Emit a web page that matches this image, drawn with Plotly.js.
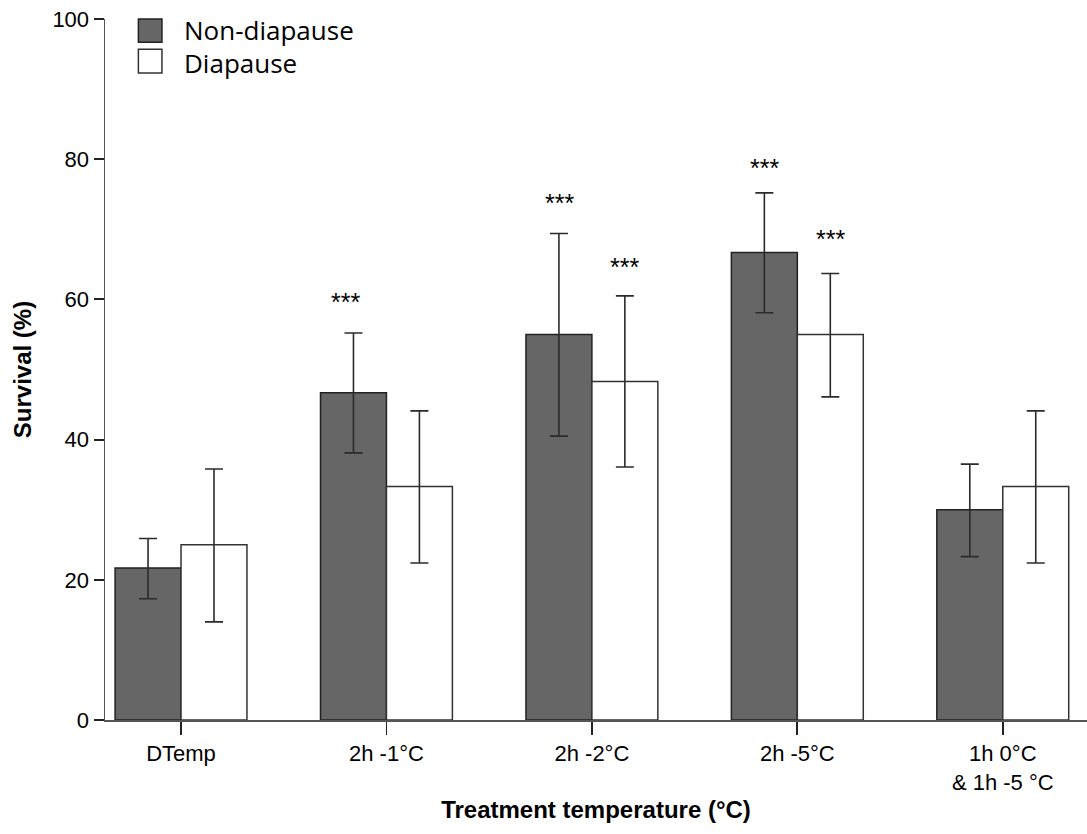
<!DOCTYPE html>
<html>
<head>
<meta charset="utf-8">
<script src="https://cdn.plot.ly/plotly-3.0.1.min.js"></script>
<style>
  html, body { margin: 0; padding: 0; background: #fff; }
  #chart { width: 1087px; height: 834px; }
</style>
</head>
<body>
<div id="chart"></div>
<script>
// Treatment groups on the x axis
const categories = ['DTemp', '2h -1°C', '2h -2°C', '2h -5°C', '1h 0°C<br>& 1h -5 °C'];
const seriesNames = ['Non-diapause', 'Diapause'];

// Mean survival (%) per treatment
const nonDiapause = [21.7, 46.7, 55.0, 66.7, 30.0];
const diapause = [25.0, 33.3, 48.3, 55.0, 33.3];

// Upper and lower confidence limits (%)
const nonDiapauseUpper = [25.9, 55.2, 69.4, 75.2, 36.5];
const nonDiapauseLower = [17.3, 38.1, 40.5, 58.1, 23.3];
const diapauseUpper = [35.8, 44.1, 60.5, 63.7, 44.1];
const diapauseLower = [14.0, 22.4, 36.1, 46.1, 22.4];

// Significance markers: [category index, series index, label height (%)]
const significance = [
  [1, 0, 59.7],
  [2, 0, 73.8],
  [2, 1, 64.6],
  [3, 0, 78.8],
  [3, 1, 68.6]
];
const sigLabel = '***';

const idx = categories.map((_, i) => i);
const up = (hi, mean) => hi.map((v, i) => +(v - mean[i]).toFixed(2));
const down = (lo, mean) => lo.map((v, i) => +(mean[i] - v).toFixed(2));

const errStyle = { type: 'data', symmetric: false, color: '#2b2b2b', thickness: 1.6, width: 9 };

const traces = [
  {
    type: 'bar', name: seriesNames[0], x: idx, y: nonDiapause,
    marker: { color: '#666666', line: { color: '#222222', width: 1.5 } },
    error_y: Object.assign({ array: up(nonDiapauseUpper, nonDiapause), arrayminus: down(nonDiapauseLower, nonDiapause) }, errStyle),
    hoverinfo: 'y'
  },
  {
    type: 'bar', name: seriesNames[1], x: idx, y: diapause,
    marker: { color: '#ffffff', line: { color: '#333333', width: 1.5 } },
    error_y: Object.assign({ array: up(diapauseUpper, diapause), arrayminus: down(diapauseLower, diapause) }, errStyle),
    hoverinfo: 'y'
  }
];

const barOffset = 0.16;
const annotations = significance.map(([c, s, y]) => ({
  x: c + (s === 0 ? -barOffset : barOffset) - (s === 0 && c === 1 ? 0.04 : 0),
  y: y, xref: 'x', yref: 'y', text: sigLabel, showarrow: false,
  font: { family: 'Liberation Sans, Arial, sans-serif', size: 25, color: '#000' }
}));

// Legend drawn as boxes with labels in the top-left corner
const legendFill = ['#666666', '#ffffff'];
const legendLine = ['#222222', '#333333'];
const legendRows = [[1.0, 0.967, 0.985], [0.957, 0.923, 0.937]];
const shapes = [];
seriesNames.forEach((name, i) => {
  const [y1, y0, yc] = legendRows[i];
  shapes.push({
    type: 'rect', xref: 'paper', yref: 'paper',
    x0: 0.034, x1: 0.058, y0: y0, y1: y1,
    fillcolor: legendFill[i], line: { color: legendLine[i], width: 1.5 }
  });
  annotations.push({
    xref: 'paper', yref: 'paper', x: 0.078, y: yc, xanchor: 'left', yanchor: 'middle',
    text: name, showarrow: false,
    font: { family: 'Open Sans, Noto Sans, sans-serif', size: 26, color: '#000' }
  });
});

const tickFont = { family: 'Liberation Sans, Arial, sans-serif', size: 22, color: '#000' };
const titleFont = { family: 'Liberation Sans, Arial, sans-serif', size: 24, color: '#000' };

const layout = {
  width: 1087, height: 834,
  margin: { l: 105, r: 0, t: 19, b: 114 },
  paper_bgcolor: '#fff', plot_bgcolor: '#fff',
  showlegend: false,
  barmode: 'group', bargap: 0.358, bargroupgap: 0,
  xaxis: {
    tickmode: 'array', tickvals: idx, ticktext: categories,
    range: [-0.37, 4.41],
    showline: true, linecolor: '#555', linewidth: 1.5,
    ticks: 'outside', ticklen: 13, tickwidth: 1.8, tickcolor: '#222',
    showgrid: false, zeroline: false,
    tickfont: tickFont,
    title: { text: '<b>Treatment temperature (°C)</b>', font: titleFont, standoff: 7 }
  },
  yaxis: {
    range: [0, 100], tickvals: [0, 20, 40, 60, 80, 100],
    showline: true, linecolor: '#555', linewidth: 1.5,
    ticks: 'outside', ticklen: 10, tickwidth: 1.8, tickcolor: '#222',
    showgrid: false, zeroline: false,
    tickfont: tickFont,
    title: { text: '<b>Survival (%)</b>', font: titleFont, standoff: 14 }
  },
  annotations: annotations,
  shapes: shapes
};

Plotly.newPlot('chart', traces, layout, { displayModeBar: false, staticPlot: true });
</script>
</body>
</html>
